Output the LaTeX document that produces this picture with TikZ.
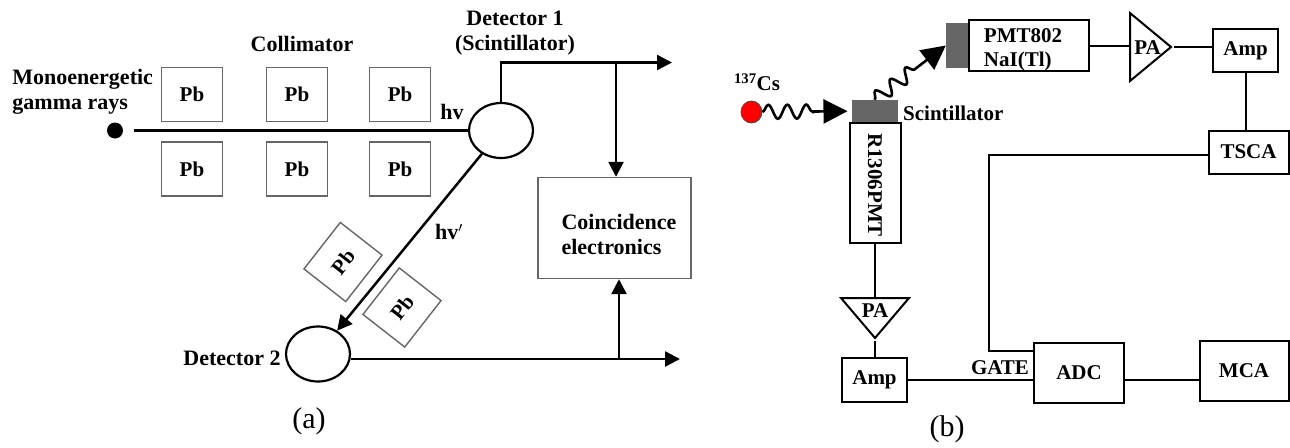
\documentclass[tikz,border=0pt]{standalone}
\usepackage{fontspec}
\setmainfont{Liberation Serif}
\usetikzlibrary{arrows.meta,shapes.geometric,decorations.pathmorphing}

\tikzset{
    lbl/.style = {font=\fontsize{22}{25}\selectfont\bfseries, inner sep=0pt, align=left},
    lblb/.style = {font=\fontsize{21}{24}\selectfont\bfseries, inner sep=0pt, align=left},
    caption/.style = {font=\fontsize{30}{32}\selectfont, inner sep=0pt},
    leadbox/.style = {draw=black!60, line width=1.4pt, lblb, minimum width=61pt, minimum height=54pt},
    tiltbox/.style = {leadbox, rotate=52, minimum width=59pt, minimum height=53pt},
    det/.style = {ellipse, draw, line width=2.2pt, minimum width=64pt, minimum height=55pt, inner sep=0pt},
    block/.style = {rectangle, draw, line width=2pt, lblb},
    scin/.style = {rectangle, fill=black!60, inner sep=0pt},
    amptri/.style = {isosceles triangle, isosceles triangle stretches, draw, line width=2pt, inner sep=0pt},
    beam/.style = {line width=2.6pt},
    wire/.style = {line width=2pt},
    big/.style = {line width=2.5pt, -{Triangle[length=15pt,width=15pt]}},
    wave/.style = {line width=2.6pt, -{Triangle[length=24pt,width=24pt]}, decorate,
        decoration={snake, segment length=19pt, amplitude=7pt}}
}

\begin{document}
\begin{tikzpicture}[
            x = 1pt, y = -1pt, % one unit is one pixel of the figure
            >= stealth
        ]
	\useasboundingbox (0,0) rectangle (1290,447);

	% part (a)
	\node[circle, fill=black, minimum size=16pt, inner sep=0pt] (src) at (115,130.5) {};
	\node[det] (det1) at (501,130.5) {};
	\node[det] (det2) at (318,354) {};
	\node[leadbox] (pb1) at (192,94.5) {Pb};
	\node[leadbox] (pb2) at (297,94.5) {Pb};
	\node[leadbox] (pb3) at (400,94.5) {Pb};
	\node[leadbox] (pb4) at (192,169) {Pb};
	\node[leadbox] (pb5) at (297,169) {Pb};
	\node[leadbox] (pb6) at (400,169) {Pb};
	\node[tiltbox] (pb7) at (343,262) {Pb};
	\node[tiltbox] (pb8) at (402,307.5) {Pb};
	\node[draw=black!60, line width=1.4pt, minimum width=153pt, minimum height=101pt] (coin) at (614.5,228) {};

	\node[lbl, align=center] (det1lbl) at (515,33) {Detector 1\\(Scintillator)};
	\node[lbl] (colllbl) at (302,44) {Collimator};
	\node[lbl] (monolbl) at (82.7,91.5) {Monoenergetic\\gamma rays};
	\node[lbl] (hvlbl) at (452,112) {hv};
	\node[lbl] (hvplbl) at (449,232) {hv$^{\prime}$};
	\node[lbl] (coinlbl) at (619,234.5) {Coincidence\\electronics};
	\node[lbl] (det2lbl) at (232,358) {Detector 2};
	\node[caption] (capa) at (309,421) {(a)};

	\coordinate (outa) at (672,62.5);
	\coordinate (outb) at (680,359);
	\coordinate (tapa) at (616,62.5);
	\coordinate (tapb) at (619,359);

	\draw[beam, shorten <=11pt] (src) -- (det1);
	\draw[big] (det1) -- (det2);
	\draw[big] (det1.north) |- (outa);
	\draw[big] (tapa) -- (tapa |- coin.north);
	\draw[big] (det2.east |- outb) -- (outb);
	\draw[big] (tapb) -- (tapb |- coin.south);

	% part (b)
	\node[ellipse, fill=red, draw=black!70, line width=0.8pt, minimum width=21pt, minimum height=22pt, inner sep=0pt] (cs) at (751.5,112) {};
	\node[lblb] (cslbl) at (757,82) {\textsuperscript{137}Cs};
	\node[scin, minimum width=46pt, minimum height=22pt] (scina) at (874.7,111) {};
	\node[scin, minimum width=23pt, minimum height=45pt] (scinb) at (957.5,45.5) {};
	\node[lblb, anchor=west] (scinlbl) at (903,113) {Scintillator};
	\node[block, minimum width=51pt, minimum height=120pt] (pmta) at (875,183) {};
	\node[lblb, rotate=-90] (pmtalbl) at (875,185) {R1306PMT};
	\node[block, minimum width=120pt, minimum height=51pt] (pmtb) at (1029,45.5) {};
	\node[lblb] (pmtblbl) at (1023,50) {PMT802\\NaI(Tl)};

	\node[amptri, minimum height=41pt, minimum width=68pt, anchor=lower side] (paa) at (1129,47) {};
	\node[lblb] (paalbl) at (1147.5,48) {PA};
	\node[amptri, shape border rotate=-90, minimum height=40pt, minimum width=68pt, anchor=lower side] (pab) at (875,297) {};
	\node[lblb] (pablbl) at (875,311) {PA};

	\node[block, minimum width=65pt, minimum height=43pt] (ampa) at (1245.5,50.5) {Amp};
	\node[block, minimum width=80pt, minimum height=43pt] (tsca) at (1248.5,152) {TSCA};
	\node[block, minimum width=65pt, minimum height=44pt] (ampb) at (874.5,379.5) {Amp};
	\node[block, minimum width=90pt, minimum height=60pt] (adc) at (1079,372.5) {ADC};
	\node[block, minimum width=89pt, minimum height=60pt] (mca) at (1244,371) {MCA};
	\node[lblb] (gatelbl) at (1000,368) {GATE};
	\node[caption] (capb) at (947,429) {(b)};

	\coordinate (bend) at (988.5,155);
	\coordinate (gatein) at (1034,351);

	\draw[wave, shorten >=4pt, decoration={post length=36pt}] (cs) -- (scina);
	\draw[wave, decoration={post length=34pt}] (scina.north) -- (scinb.west);
	\draw[wire] (pmtb.east) -- (pmtb.east -| paa.lower side);
	\draw[wire] (paa.apex) -- (paa.apex -| ampa.west);
	\draw[wire] (ampa) -- (tsca.north -| ampa);
	\draw[wire] (tsca.west |- bend) -- (bend) |- (gatein);
	\draw[wire] (pmta) -- (pab.lower side);
	\draw[wire] (pab.apex) -- (ampb.north -| pab.apex);
	\draw[wire] (ampb.east) -- (ampb.east -| adc.west);
	\draw[wire] (adc.east |- ampb.east) -- (mca.west |- ampb.east);

\end{tikzpicture}
\end{document}
